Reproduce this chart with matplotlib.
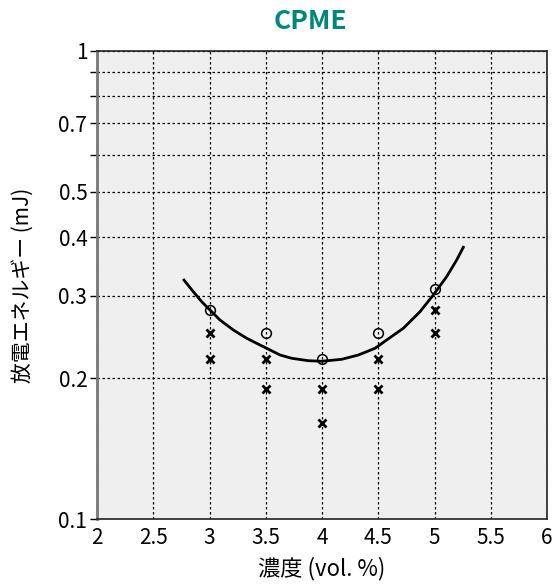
import matplotlib
matplotlib.use("Agg")
import matplotlib.pyplot as plt
from matplotlib.ticker import FixedLocator, FixedFormatter, NullFormatter

plt.rcParams['font.family'] = ['Noto Sans CJK JP', 'DejaVu Sans']

# measured points
conc = [3.0, 3.5, 4.0, 4.5, 5.0]
ignition = [0.28, 0.25, 0.22, 0.25, 0.31]          # open circles
no_ign_x = [3.0, 3.0, 3.5, 3.5, 4.0, 4.0, 4.5, 4.5, 5.0, 5.0]
no_ign_y = [0.25, 0.22, 0.22, 0.19, 0.19, 0.16, 0.22, 0.19, 0.28, 0.25]  # crosses

# fitted curve
curve_x = [2.773, 2.856, 2.931, 2.998, 3.093, 3.212, 3.331, 3.449, 3.538,
           3.627, 3.731, 3.878, 3.997, 4.175, 4.323, 4.471, 4.575, 4.723,
           4.871, 4.989, 5.108, 5.197, 5.256]
curve_y = [0.324, 0.306, 0.2912, 0.2806, 0.2662, 0.2534, 0.2433, 0.2354,
           0.2297, 0.2241, 0.2205, 0.2179, 0.2173, 0.2194, 0.2241, 0.2316,
           0.2413, 0.2556, 0.2773, 0.301, 0.3295, 0.3576, 0.3807]

xticks = [2, 2.5, 3, 3.5, 4, 4.5, 5, 5.5, 6]
yticks = [0.1, 0.2, 0.3, 0.4, 0.5, 0.7, 1]
ylabels = ['0.1', '0.2', '0.3', '0.4', '0.5', '0.7', '1']
yminor = [0.6, 0.8, 0.9]

fig = plt.figure(figsize=(5.55, 5.86), dpi=100)
ax = fig.add_axes([0.1748, 0.1143, 0.8108, 0.7987])
ax.set_facecolor('#efefef')

ax.plot(curve_x, curve_y, color='black', lw=2, solid_joinstyle='round')
ax.plot(conc, ignition, 'o', mfc='none', mec='black', ms=7, mew=1.1)
ax.plot(no_ign_x, no_ign_y, 'x', color='black', ms=5.5, mew=2)

ax.set_yscale('log')
ax.set_xlim(2, 6)
ax.set_ylim(0.1, 1)
ax.set_xticks(xticks)
ax.set_xticklabels([f'{v:g}' for v in xticks])
ax.yaxis.set_major_locator(FixedLocator(yticks))
ax.yaxis.set_major_formatter(FixedFormatter(ylabels))
ax.yaxis.set_minor_locator(FixedLocator(yminor))
ax.yaxis.set_minor_formatter(NullFormatter())

ax.tick_params(axis='x', length=0, labelsize=15, pad=6)
ax.tick_params(axis='y', which='both', length=5, width=1, labelsize=15, pad=2)

# dotted grid
ax.grid(True, which='both', axis='y', color='black', lw=0.9, ls=(0, (2, 2)))
ax.grid(True, axis='x', color='black', lw=0.9, ls=(0, (2, 2)))
for gl in ax.get_ygridlines()[:1]:
    gl.set_visible(False)

for side in ['top', 'right', 'bottom']:
    ax.spines[side].set_color('#222222')
    ax.spines[side].set_linewidth(1.2)
ax.spines['left'].set_color('#777777')
ax.spines['left'].set_linewidth(2)

ax.set_xlabel('濃度 (vol. %)', fontsize=16, labelpad=5)
ax.set_ylabel('放電エネルギー (mJ)', fontsize=15, labelpad=18)
fig.text(0.5586, 0.963, 'CPME', fontsize=19, fontweight='bold',
         color='#00877a', ha='center', va='center')

fig.savefig('out.png', dpi=100)
